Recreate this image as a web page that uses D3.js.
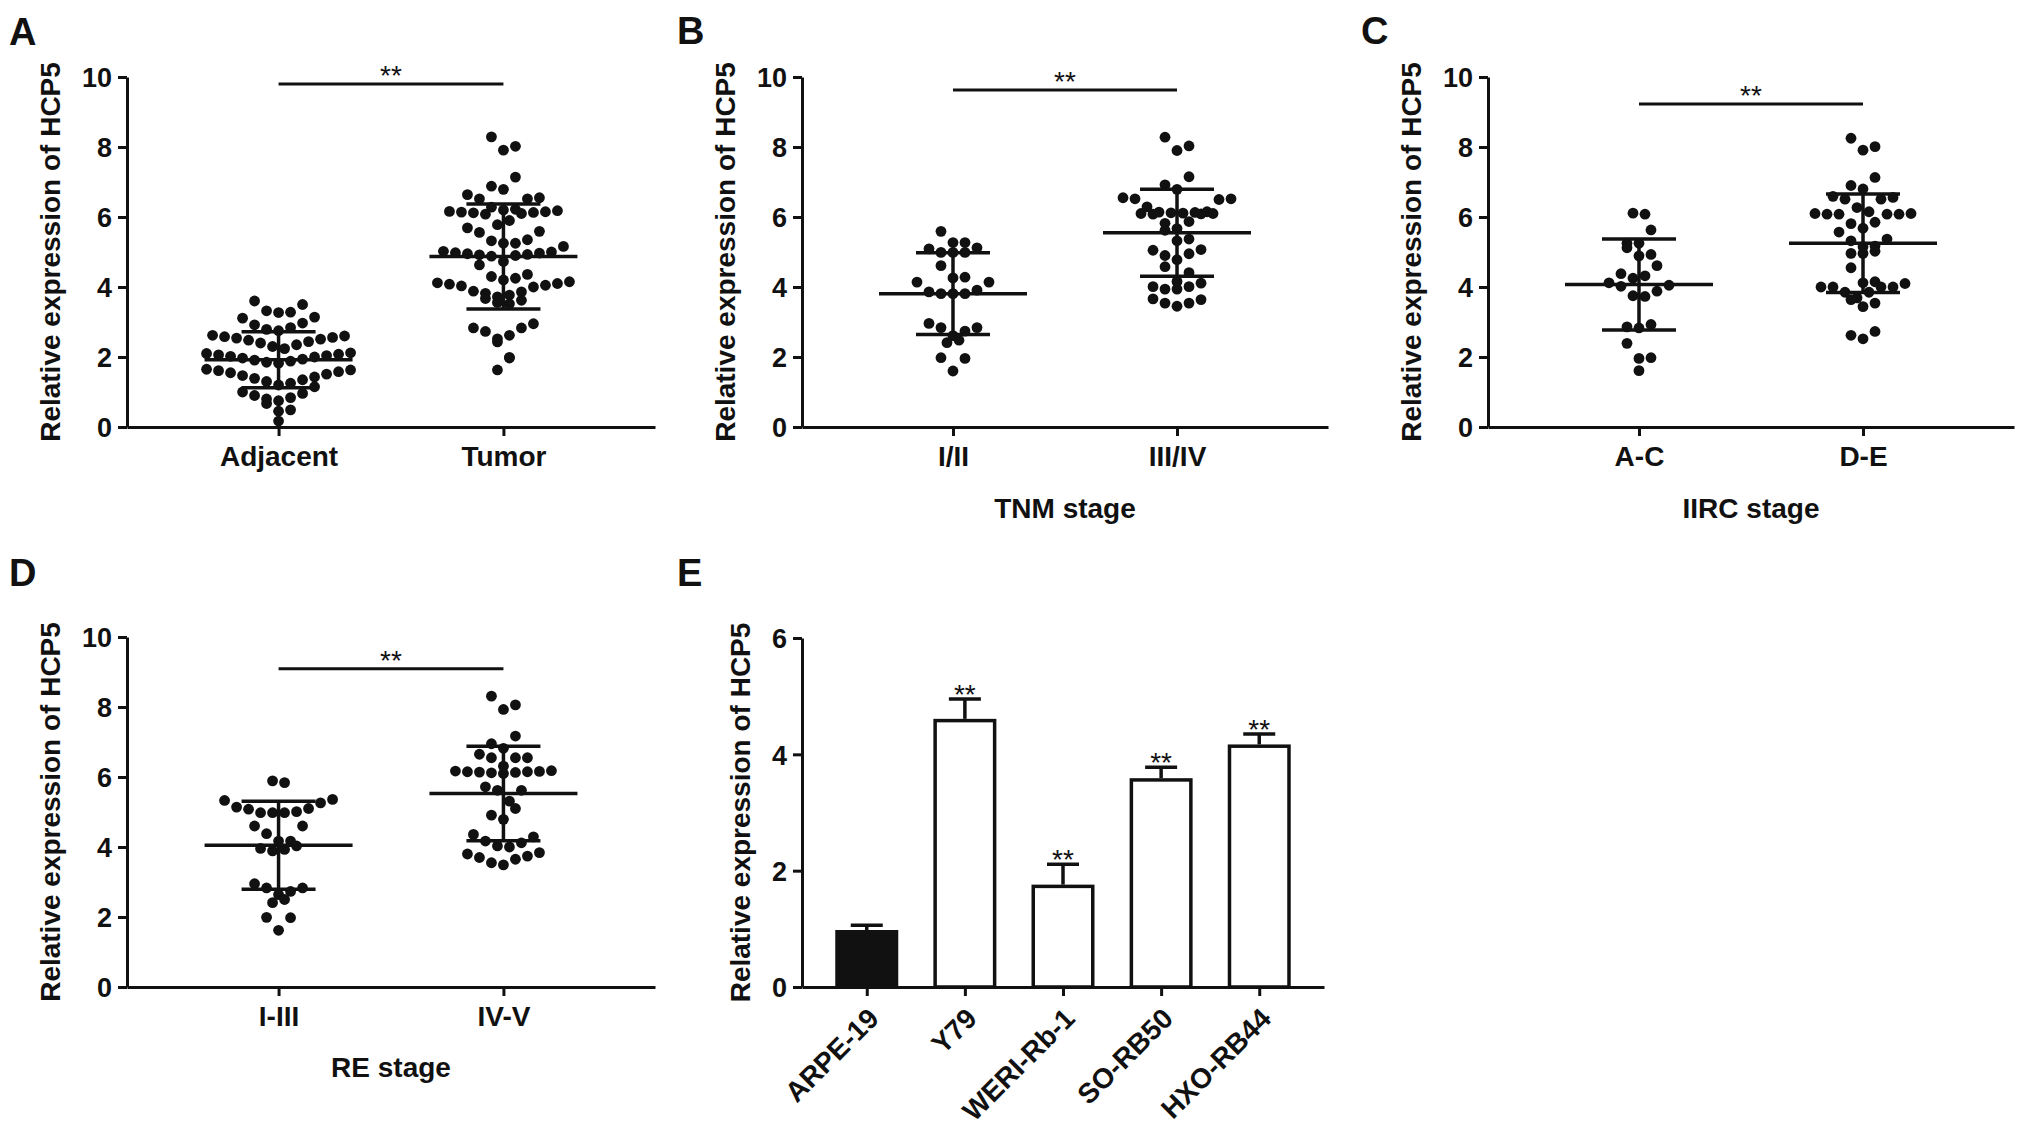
<!DOCTYPE html>
<html>
<head>
<meta charset="utf-8">
<script src="https://cdnjs.cloudflare.com/ajax/libs/d3/7.8.5/d3.min.js"></script>
<style>
  body { margin: 0; background: #fff; }
  svg { display: block; }
</style>
</head>
<body>
<svg id="fig" width="2031" height="1135"></svg>
<script>

//--------------------------------data-----------------------------------------

// A : tissue samples
const groupsA = ["Adjacent", "Tumor"];
const adjacentValues = [3.6, 3.5, 3.32, 3.28, 3.27,
  3.14, 3.11, 2.97, 2.92, 2.84, 2.79, 2.75,
  2.62, 2.6, 2.58, 2.56, 2.54, 2.51, 2.48, 2.44, 2.4, 2.35, 2.3, 2.24,
  2.12, 2.1, 2.08, 2.06, 2.04, 2.02, 2.0, 1.97, 1.94, 1.91, 1.88, 1.85, 1.82,
  1.65, 1.63, 1.61, 1.58, 1.55, 1.51, 1.47, 1.43, 1.39, 1.35, 1.3, 1.25, 1.2,
  1.15, 1.0, 0.96, 0.9, 0.84, 0.8, 0.75,
  0.67, 0.49, 0.45, 0.17];
const tumorValues = [8.29, 8.02, 7.91, 7.14, 6.88, 6.79,
  6.64, 6.55, 6.52, 6.52, 6.28, 6.22, 6.2,
  6.18, 6.16, 6.15, 6.14, 6.13, 6.12, 6.1, 6.08, 5.9, 5.78,
  5.69, 5.59, 5.56, 5.35, 5.32, 5.25, 5.25,
  5.16, 5.02, 5.0, 4.98, 4.97, 4.95, 4.93, 4.92, 4.9, 4.88, 4.73,
  4.63, 4.36, 4.3, 4.25, 4.2,
  4.15, 4.12, 4.1, 4.08, 4.05, 4.03, 4.0, 3.88, 3.86, 3.82, 3.77, 3.72,
  3.67, 3.62, 3.56, 3.52,
  2.95, 2.83, 2.83, 2.73, 2.62, 2.52, 2.43, 1.99, 1.97, 1.63];
const meansA = [1.92, 4.87];
const sdsA = [0.8, 1.5];

// B : TNM stage
const groupsB = ["I/II", "III/IV"];
const tnmLowValues = [5.59, 5.27, 5.27, 5.12, 5.09, 4.99, 4.99, 4.99, 4.61, 4.28, 4.26, 4.14, 4.14,
  3.91, 3.86, 3.81, 3.81, 3.81, 2.96, 2.84, 2.84, 2.74, 2.61, 2.48, 2.41, 1.98, 1.96, 1.6];
const tnmHighValues = [8.28, 8.03, 7.9, 7.15, 6.92, 6.79, 6.55, 6.52, 6.52, 6.5, 6.29,
  6.15, 6.14, 6.13, 6.12, 6.11, 6.1, 6.1, 6.09, 6.08,
  5.87, 5.82, 5.67, 5.62, 5.37, 5.32, 5.07, 5.05, 4.95, 4.9, 4.78, 4.58, 4.41,
  4.16, 4.11, 4.01, 4.01, 3.94, 3.94,
  3.66, 3.64, 3.54, 3.54, 3.45];
const meansB = [3.81, 5.55];
const sdsB = [1.17, 1.24];

// C : IIRC stage
const groupsC = ["A-C", "D-E"];
const iircLowValues = [6.11, 6.08, 5.63, 5.25, 5.25, 5.12, 4.93, 4.89, 4.61, 4.38, 4.32, 4.25,
  4.12, 4.05, 4.02, 3.88, 3.75, 3.73, 2.93, 2.86, 2.83, 2.39, 1.98, 1.96, 1.61];
const iircHighValues = [8.25, 8.01, 7.91, 7.13, 6.9, 6.8, 6.59, 6.56, 6.51, 6.51, 6.27,
  6.15, 6.1, 6.1, 6.08, 6.08, 6.08, 6.08,
  5.85, 5.81, 5.68, 5.57, 5.37, 5.32, 5.17, 5.15, 5.02, 4.96, 4.96, 4.55,
  4.15, 4.12, 4.1, 4.0, 4.0, 4.0, 4.0,
  3.85, 3.85, 3.69, 3.64, 3.54, 3.44,
  2.73, 2.62, 2.52];
const meansC = [4.07, 5.25];
const sdsC = [1.3, 1.41];

// D : RE stage
const groupsD = ["I-III", "IV-V"];
const reLowValues = [5.89, 5.84, 5.36, 5.33, 5.26, 5.14, 5.1, 5.08, 5.01, 4.98, 4.98, 4.98,
  4.6, 4.6, 4.38, 4.17, 4.17, 4.03, 3.96, 3.93, 3.89,
  2.95, 2.83, 2.83, 2.73, 2.64, 2.5, 2.41, 1.99, 1.98, 1.62];
const reHighValues = [8.31, 8.06, 7.93, 7.17, 6.95, 6.82, 6.65, 6.55, 6.55, 6.55, 6.31,
  6.18, 6.17, 6.16, 6.15, 6.15, 6.14, 6.13, 6.12, 6.1,
  5.72, 5.62, 5.62, 5.31, 5.1, 4.91, 4.79,
  4.36, 4.29, 4.17, 4.12, 4.03, 4.0,
  3.84, 3.8, 3.74, 3.7, 3.65, 3.55, 3.49];
const meansD = [4.05, 5.53];
const sdsD = [1.26, 1.35];

// E : cell lines
const cellLines = ["ARPE-19", "Y79", "WERI-Rb-1", "SO-RB50", "HXO-RB44"];
const cellMeans = [0.98, 4.61, 1.76, 3.59, 4.17];
const cellErrors = [0.08, 0.34, 0.35, 0.19, 0.18];
const cellStars = ["", "**", "**", "**", "**"];

//-------------------------------settings---------------------------------------

const FONT = '"Liberation Sans", Arial, Helvetica, sans-serif';
const INK = "#111";
const YLABEL = "Relative expression of HCP5";

const svg = d3.select("#fig");
svg.append("rect").attr("width", 2031).attr("height", 1135).attr("fill", "#fff");

//------------------------------rowLayout()-------------------------------------

//GraphPad-like scatter: values close to each other share a row, the lowest
//value of a row sits in the middle and higher ones are pushed to the edges
function rowLayout(values, binH, step) {
  let sorted = values.slice().sort((a, b) => b - a);
  let rows = [];
  sorted.forEach(v => {
    let last = rows[rows.length - 1];
    if (last && last.start - v <= binH) last.vals.push(v);
    else rows.push({start: v, vals: [v]});
  });
  let out = [];
  rows.forEach((r, ri) => {
    let asc = r.vals.slice().sort((a, b) => a - b);
    let n = asc.length;
    //slots ordered from the middle outwards
    let slots = d3.range(n).map(k => (k - (n - 1) / 2) * step)
      .sort((a, b) => (Math.abs(a) - Math.abs(b)) || ((ri % 2) ? a - b : b - a));
    asc.forEach((v, k) => out.push({v: v, dx: slots[k]}));
  });
  return out;
}

//------------------------------styleAxis()-------------------------------------

function styleAxis(axisG, fontSize) {
  axisG.attr("font-family", FONT).attr("font-size", fontSize).attr("font-weight", "bold");
  axisG.select(".domain").attr("stroke", INK).attr("stroke-width", 3);
  axisG.selectAll(".tick line").attr("stroke", INK).attr("stroke-width", 3);
  axisG.selectAll(".tick text").attr("fill", INK);
}

function panelLetter(letter, x, y) {
  svg.append("text").attr("x", x).attr("y", y)
    .attr("font-family", FONT).attr("font-size", 38).attr("font-weight", "bold")
    .attr("fill", INK).text(letter);
}

function yTitle(x, yMid) {
  svg.append("text")
    .attr("transform", `translate(${x},${yMid}) rotate(-90)`)
    .attr("text-anchor", "middle")
    .attr("font-family", FONT).attr("font-size", 28).attr("font-weight", "bold")
    .attr("fill", INK).text(YLABEL);
}

//----------------------------scatterPanel()------------------------------------

function scatterPanel(p) {
  let g = svg.append("g");
  let y = d3.scaleLinear().domain([0, 10]).range([p.y0, p.y10]);
  let x = d3.scalePoint().domain(p.groups).range([p.x0, p.x1]).padding(0.674);

  //Dots, one scatter column per group
  p.values.forEach((vals, gi) => {
    let cx = x(p.groups[gi]);
    g.append("g").selectAll("circle")
      .data(rowLayout(vals, 0.45, 12))
      .join("circle")
        .attr("cx", d => cx + d.dx)
        .attr("cy", d => y(d.v))
        .attr("r", 5.4)
        .attr("fill", INK);
  });

  //Mean and SD
  p.groups.forEach((grp, gi) => {
    let cx = x(grp), m = p.means[gi], s = p.sds[gi];
    let eb = g.append("g").attr("stroke", INK).attr("stroke-width", 3.5);
    eb.append("line").attr("x1", cx - 74).attr("x2", cx + 74).attr("y1", y(m)).attr("y2", y(m));
    eb.append("line").attr("x1", cx).attr("x2", cx).attr("y1", y(m - s)).attr("y2", y(m + s));
    [m - s, m + s].forEach(v => {
      eb.append("line").attr("x1", cx - 37).attr("x2", cx + 37).attr("y1", y(v)).attr("y2", y(v));
    });
  });

  //Axes
  let yAxis = g.append("g").attr("transform", `translate(${p.x0},0)`)
    .call(d3.axisLeft(y).tickValues([0, 2, 4, 6, 8, 10]).tickFormat(d3.format("d"))
      .tickSize(9).tickSizeOuter(0).tickPadding(6));
  styleAxis(yAxis, 27);
  yAxis.selectAll(".tick text").attr("dy", "0.36em");

  let xAxis = g.append("g").attr("transform", `translate(0,${p.y0})`)
    .call(d3.axisBottom(x).tickSize(9).tickSizeOuter(0).tickPadding(10));
  styleAxis(xAxis, 28);

  //Significance bar
  g.append("line")
    .attr("x1", x(p.groups[0])).attr("x2", x(p.groups[1]))
    .attr("y1", y(p.sigLevel)).attr("y2", y(p.sigLevel))
    .attr("stroke", INK).attr("stroke-width", 3);
  g.append("text")
    .attr("x", (x(p.groups[0]) + x(p.groups[1])) / 2).attr("y", y(p.sigLevel) + 1)
    .attr("text-anchor", "middle")
    .attr("font-family", FONT).attr("font-size", 28).attr("fill", INK)
    .text("**");

  //Titles
  yTitle(p.x0 - 67, (p.y0 + p.y10) / 2);
  if (p.xTitle) {
    g.append("text")
      .attr("x", (p.x0 + p.x1) / 2).attr("y", p.xTitleY)
      .attr("text-anchor", "middle")
      .attr("font-family", FONT).attr("font-size", 28).attr("font-weight", "bold")
      .attr("fill", INK).text(p.xTitle);
  }
  panelLetter(p.letter, p.letterX, p.letterY);
}

//------------------------------barPanel()--------------------------------------

function barPanel(p) {
  let g = svg.append("g");
  let y = d3.scaleLinear().domain([0, 6]).range([p.y0, p.yTop]);
  let x = d3.scalePoint().domain(cellLines).range([p.x0, p.x1]).padding(0.66);
  let barW = 63;

  //Upper error bars (drawn first, bars cover their base)
  let eb = g.append("g").attr("stroke", INK).attr("stroke-width", 3.5);
  cellLines.forEach((c, i) => {
    let cx = x(c), top = y(cellMeans[i] + cellErrors[i]);
    eb.append("line").attr("x1", cx).attr("x2", cx).attr("y1", y(cellMeans[i])).attr("y2", top);
    eb.append("line").attr("x1", cx - 16).attr("x2", cx + 16).attr("y1", top).attr("y2", top);
  });

  g.append("g").selectAll("rect")
    .data(cellLines)
    .join("rect")
      .attr("x", d => x(d) - barW / 2 + 1.75)
      .attr("width", barW - 3.5)
      .attr("y", (d, i) => y(cellMeans[i]) + 1.75)
      .attr("height", (d, i) => p.y0 - y(cellMeans[i]) - 1.75)
      .attr("fill", (d, i) => i === 0 ? INK : "#fff")
      .attr("stroke", INK)
      .attr("stroke-width", 3.5);

  //Significance stars
  g.append("g").selectAll("text")
    .data(cellLines)
    .join("text")
      .attr("x", d => x(d))
      .attr("y", (d, i) => y(cellMeans[i] + cellErrors[i]) + 5)
      .attr("text-anchor", "middle")
      .attr("font-family", FONT).attr("font-size", 28).attr("fill", INK)
      .text((d, i) => cellStars[i]);

  //Axes
  let yAxis = g.append("g").attr("transform", `translate(${p.x0},0)`)
    .call(d3.axisLeft(y).tickValues([0, 2, 4, 6]).tickFormat(d3.format("d"))
      .tickSize(9).tickSizeOuter(0).tickPadding(6));
  styleAxis(yAxis, 27);
  yAxis.selectAll(".tick text").attr("dy", "0.36em");

  let xAxis = g.append("g").attr("transform", `translate(0,${p.y0})`)
    .call(d3.axisBottom(x).tickSize(9).tickSizeOuter(0));
  styleAxis(xAxis, 28);
  xAxis.selectAll(".tick text")
    .attr("text-anchor", "end")
    .attr("dy", "0.36em")
    .attr("transform", "translate(6,26) rotate(-45)")
    .attr("y", 0);

  yTitle(p.x0 - 52, (p.y0 + p.yTop) / 2);
  panelLetter(p.letter, p.letterX, p.letterY);
}

//--------------------------------layout----------------------------------------

scatterPanel({letter: "A", letterX: 9, letterY: 45, groups: groupsA,
  values: [adjacentValues, tumorValues], means: meansA, sds: sdsA,
  x0: 127, x1: 655, y0: 427, y10: 77, sigLevel: 9.8});

scatterPanel({letter: "B", letterX: 677, letterY: 44, groups: groupsB,
  values: [tnmLowValues, tnmHighValues], means: meansB, sds: sdsB,
  x0: 802, x1: 1328, y0: 427, y10: 77, sigLevel: 9.63,
  xTitle: "TNM stage", xTitleY: 518});

scatterPanel({letter: "C", letterX: 1361, letterY: 44, groups: groupsC,
  values: [iircLowValues, iircHighValues], means: meansC, sds: sdsC,
  x0: 1488, x1: 2014, y0: 427, y10: 77, sigLevel: 9.23,
  xTitle: "IIRC stage", xTitleY: 518});

scatterPanel({letter: "D", letterX: 9, letterY: 586, groups: groupsD,
  values: [reLowValues, reHighValues], means: meansD, sds: sdsD,
  x0: 127, x1: 655, y0: 987, y10: 637, sigLevel: 9.09,
  xTitle: "RE stage", xTitleY: 1077});

barPanel({letter: "E", letterX: 677, letterY: 586,
  x0: 802, x1: 1324, y0: 987, yTop: 638});

</script>
</body>
</html>
